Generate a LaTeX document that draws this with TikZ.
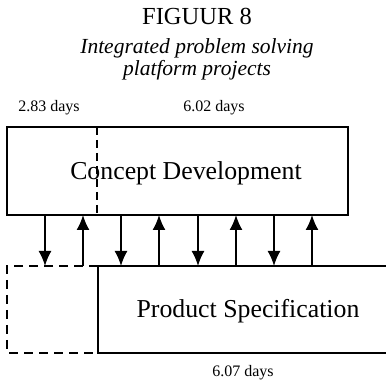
\documentclass[tikz,border=0pt]{standalone}
\usepackage{fontspec}
\setmainfont{Liberation Serif}
\usetikzlibrary{arrows.meta}
\begin{document}
\begin{tikzpicture}[x=1pt,y=-1pt,
  box/.style={draw,line width=1.7pt,inner sep=0pt,outer sep=0pt,anchor=north west},
  flow/.style={line width=1.7pt,-{Latex[length=15pt,width=13pt]}},
  days/.style={anchor=base,font=\fontsize{16}{16}\selectfont},
  boxtext/.style={anchor=base,font=\fontsize{25.8}{26}\selectfont}]
\useasboundingbox (0,0) rectangle (386,382);
% heading
\node[anchor=base,font=\fontsize{24.5}{25}\selectfont] (figure) at (197,25) {FIGUUR 8};
\node[anchor=base,font=\itshape\fontsize{21.5}{22}\selectfont] (subtitle) at (197,54) {Integrated problem solving};
\node[anchor=base,font=\itshape\fontsize{21.5}{22}\selectfont] (subtitleb) at (197,76) {platform projects};
% durations
\node[days] (dayscd) at (49,112) {2.83 days};
\node[days] (daysoverlap) at (214,112) {6.02 days};
\node[days] (daysps) at (243,377) {6.07 days};
% boxes
\node[box,minimum width=341pt,minimum height=88pt] (concept) at (7,127) {};
\node[box,minimum width=300pt,minimum height=87pt] (spec) at (98,266) {};
\node[boxtext] (concepttext) at (186,180) {Concept Development};
\node[boxtext] (spectext) at (248,318) {Product Specification};
% dashed parts
\draw[line width=1.4pt,dash pattern=on 8pt off 5pt] (97,0 |- concept.north) -- (97,0 |- concept.south);
\draw[line width=1.7pt,dash pattern=on 9pt off 6pt] (spec.north west) -| (7,0 |- spec.south west) -- (spec.south west);
% arrows
\foreach \x in {45,121,198,274}
  \draw[flow] (\x,0 |- concept.south) -- (\x,0 |- spec.north);
\foreach \x in {83,159,236,312}
  \draw[flow] (\x,0 |- spec.north) -- (\x,0 |- concept.south);
\end{tikzpicture}
\end{document}
